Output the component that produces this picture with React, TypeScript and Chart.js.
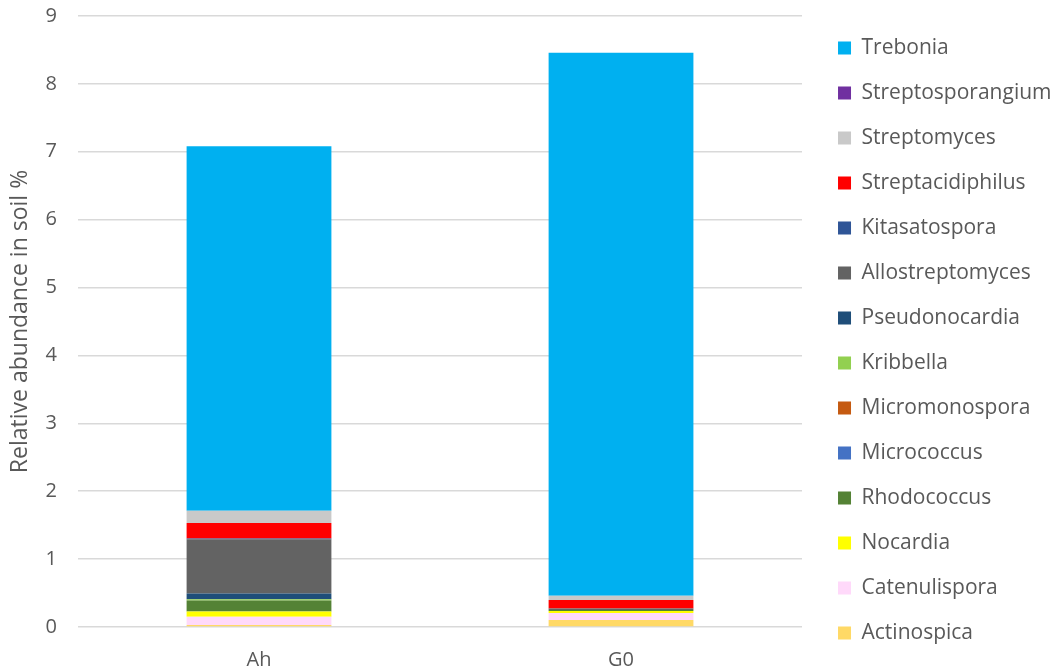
import React, { useEffect, useRef } from "react";
import { Chart, registerables } from "chart.js";

Chart.register(...registerables);

// Sample groups on the x axis
const categories = ["Ah", "G0"];

// Genera, stacked from the bottom of each bar upwards
const genera = [
  "Actinospica",
  "Catenulispora",
  "Nocardia",
  "Rhodococcus",
  "Micrococcus",
  "Micromonospora",
  "Kribbella",
  "Pseudonocardia",
  "Allostreptomyces",
  "Kitasatospora",
  "Streptacidiphilus",
  "Streptomyces",
  "Streptosporangium",
  "Trebonia",
];

// Relative abundance (%) per genus, one value per sample [Ah, G0]
const actinospica = [0.03, 0.103];
const catenulispora = [0.12, 0.103];
const nocardia = [0.08, 0.03];
const rhodococcus = [0.16, 0.015];
const micrococcus = [0.0, 0.0];
const micromonospora = [0.0, 0.0];
const kribbella = [0.02, 0.0];
const pseudonocardia = [0.083, 0.0];
const allostreptomyces = [0.8, 0.02];
const kitasatospora = [0.01, 0.0];
const streptacidiphilus = [0.23, 0.128];
const streptomyces = [0.18, 0.06];
const streptosporangium = [0.0, 0.0];
const trebonia = [5.37, 8.0];

const seriesValues = [
  actinospica,
  catenulispora,
  nocardia,
  rhodococcus,
  micrococcus,
  micromonospora,
  kribbella,
  pseudonocardia,
  allostreptomyces,
  kitasatospora,
  streptacidiphilus,
  streptomyces,
  streptosporangium,
  trebonia,
];

const seriesColors = [
  "#FFD966",
  "#FFD9FA",
  "#FFFF00",
  "#548235",
  "#4472C4",
  "#C55A11",
  "#92D050",
  "#1F4E79",
  "#636363",
  "#2F5597",
  "#FF0000",
  "#C9C9C9",
  "#7030A0",
  "#00B0F0",
];

const yTicks = [0, 1, 2, 3, 4, 5, 6, 7, 8, 9];
const yTitle = "Relative abundance in soil %";

const FONT = "'Open Sans', 'DejaVu Sans', sans-serif";
const TEXT = "#595959";

export default function App() {
  const canvasRef = useRef<HTMLCanvasElement | null>(null);

  useEffect(() => {
    const canvas = canvasRef.current;
    if (!canvas) return;

    const chart = new Chart(canvas, {
      type: "bar",
      data: {
        labels: categories,
        datasets: genera.map((name, i) => ({
          label: name,
          data: seriesValues[i],
          backgroundColor: seriesColors[i],
          borderWidth: 0,
          yAxisID: "y",
          barPercentage: 0.4,
          categoryPercentage: 1.0,
        })),
      },
      options: {
        responsive: false,
        animation: false,
        layout: { padding: { top: 12, bottom: 1, left: 0, right: -9.5 } },
        plugins: {
          legend: {
            position: "right",
            reverse: true,
            maxWidth: 400,
            labels: {
              color: TEXT,
              font: { family: FONT, size: 21 },
              boxWidth: 13,
              boxHeight: 13,
              padding: 24,
            },
          },
          tooltip: { enabled: false },
        },
        scales: {
          x: {
            stacked: true,
            grid: { display: false },
            border: { display: false },
            ticks: {
              color: TEXT,
              font: { family: FONT, size: 20 },
              padding: 13,
            },
            afterFit: (scale: any) => {
              scale.height = 42;
              scale.paddingLeft = 0;
              scale.paddingRight = 0;
            },
          },
          y: {
            stacked: true,
            min: 0,
            max: 9,
            afterBuildTicks: (scale: any) => {
              scale.ticks = yTicks.map((v) => ({ value: v }));
            },
            grid: { color: "#D9D9D9", lineWidth: 1.5, drawTicks: false },
            border: { display: false },
            ticks: {
              color: TEXT,
              font: { family: FONT, size: 20 },
              padding: 21,
            },
            title: {
              display: true,
              text: yTitle,
              color: TEXT,
              font: { family: FONT, size: 23 },
              padding: { top: 7, bottom: 0 },
            },
            afterFit: (scale: any) => {
              scale.width = 78;
              scale.paddingTop = 16;
              scale.paddingBottom = 0;
            },
          },
          gap: {
            type: "linear",
            position: "right",
            display: true,
            grid: { display: false },
            border: { display: false },
            ticks: { display: false },
            afterFit: (scale: any) => {
              scale.width = 12;
            },
          },
        },
      },
    } as any);

    return () => chart.destroy();
  }, []);

  return (
    <div style={{ position: "fixed", left: 0, top: 0, width: 1052, height: 670, background: "#ffffff" }}>
      <canvas ref={canvasRef} width={1052} height={670} />
    </div>
  );
}
